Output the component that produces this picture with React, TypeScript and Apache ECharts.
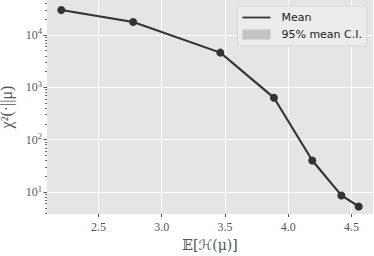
import React, { useEffect, useRef } from "react";
import * as echarts from "echarts";

const xValues = [2.206, 2.774, 3.463, 3.887, 4.19, 4.42, 4.557];
const meanValues = [30000, 17700, 4600, 630, 40, 8.6, 5.3];
const ciLower = [29000, 17200, 4420, 570, 36.5, 8.1, 5.0];
const ciUpper = [31000, 18200, 4800, 700, 44, 9.2, 5.6];
const xTicks = [2.5, 3.0, 3.5, 4.0, 4.5];
const yTicks = [10, 100, 1000, 10000];
const yMinorTicks = [4, 5, 6, 7, 8, 9, 20, 30, 40, 50, 60, 70, 80, 90, 200, 300, 400, 500, 600, 700, 800, 900, 2000, 3000, 4000, 5000, 6000, 7000, 8000, 9000, 20000, 30000, 40000];

const SERIF = "'Liberation Serif', 'DejaVu Serif', serif";
const MATH = "'DejaVu Serif', 'DejaVu Sans', serif";
const SANS = "'DejaVu Sans', sans-serif";

export default function App() {
  const ref = useRef<HTMLDivElement>(null);
  useEffect(() => {
    if (!ref.current) return;
    const chart = echarts.init(ref.current, null, { renderer: "svg" });
    const bandData = xValues.map((x, i) => [x, ciLower[i], ciUpper[i]]);
    const lineData = xValues.map((x, i) => [x, meanValues[i]]);
    chart.setOption({
      animation: false,
      grid: {
        left: 47,
        right: 1,
        top: 0,
        bottom: 42,
        show: true,
        backgroundColor: "#e5e5e5",
        borderWidth: 0,
        containLabel: false,
        outerBoundsMode: "none",
      },
      legend: {
        orient: "vertical",
        right: 7,
        top: 6,
        padding: [6, 5, 6, 5],
        itemWidth: 28,
        itemHeight: 10,
        itemGap: 6,
        backgroundColor: "rgba(236,236,236,0.9)",
        borderColor: "#d6d6d6",
        borderWidth: 1,
        borderRadius: 3,
        textStyle: { fontFamily: SANS, fontSize: 11, color: "#222", padding: [0, 0, 0, 6] },
        data: [
          { name: "Mean", icon: "path://M0,0L28,0L28,1.8L0,1.8Z" },
          { name: "95% mean C.I.", icon: "rect", itemStyle: { color: "rgba(51,51,51,0.22)" } },
        ],
      },
      xAxis: {
        type: "value",
        min: 2.093,
        max: 4.67,
        name: "𝔼[ℋ(μ)]",
        nameLocation: "middle",
        nameGap: 23,
        nameTextStyle: { fontFamily: MATH, fontSize: 14, color: "#555" },
        axisLine: { show: false },
        axisTick: { show: true, customValues: xTicks, length: 3, lineStyle: { color: "#555" } },
        axisLabel: {
          customValues: xTicks,
          formatter: (v: number) => v.toFixed(1),
          fontFamily: SERIF,
          fontSize: 12,
          color: "#555",
          margin: 7,
        },
        splitLine: { show: true, lineStyle: { color: "#ffffff", width: 1 } },
      },
      yAxis: [
        {
          type: "log",
          logBase: 10,
          min: 3.8,
          max: 46600,
          name: "χ²(·||μ)",
          nameLocation: "middle",
          nameRotate: 90,
          nameGap: 24,
          nameTextStyle: { fontFamily: SERIF, fontSize: 16, color: "#555" },
          axisLine: { show: false },
          axisTick: { show: true, customValues: yTicks, length: 3.5, lineStyle: { color: "#555" } },
          axisLabel: {
            customValues: yTicks,
            margin: 5,
            formatter: (v: number) => `{b|10}{s|${Math.round(Math.log10(v))}}`,
            rich: {
              b: { fontFamily: SERIF, fontSize: 12, color: "#555" },
              s: { fontFamily: SERIF, fontSize: 8.5, color: "#555", padding: [0, 0, 7, 0] },
            },
          },
          splitLine: { show: true, lineStyle: { color: "#ffffff", width: 1 } },
        },
        {
          type: "log",
          logBase: 10,
          min: 3.8,
          max: 46600,
          position: "left",
          offset: 0,
          axisLine: { show: false },
          axisTick: { show: true, customValues: yMinorTicks, length: 2, lineStyle: { color: "#666" } },
          axisLabel: { show: false },
          splitLine: { show: false },
        },
      ],
      series: [
        {
          name: "95% mean C.I.",
          type: "custom",
          yAxisIndex: 0,
          data: bandData,
          encode: { x: 0, y: [1, 2] },
          z: 1,
          itemStyle: { color: "rgba(51,51,51,0.22)" },
          renderItem: (params: any, api: any) => {
            if (params.dataIndex !== 0) return null;
            const upper = xValues.map((x, i) => api.coord([x, ciUpper[i]]));
            const lower = xValues.map((x, i) => api.coord([x, ciLower[i]])).reverse();
            return {
              type: "polygon",
              shape: { points: upper.concat(lower) },
              style: { fill: "rgba(51,51,51,0.22)" },
            };
          },
        },
        {
          name: "Mean",
          type: "line",
          yAxisIndex: 0,
          data: lineData,
          z: 3,
          symbol: "circle",
          symbolSize: 8,
          itemStyle: { color: "#333333" },
          lineStyle: { color: "#333333", width: 2 },
        },
      ],
    });
    return () => chart.dispose();
  }, []);
  return <div ref={ref} style={{ position: "absolute", left: 0, top: 0, width: 374, height: 256 }} />;
}
